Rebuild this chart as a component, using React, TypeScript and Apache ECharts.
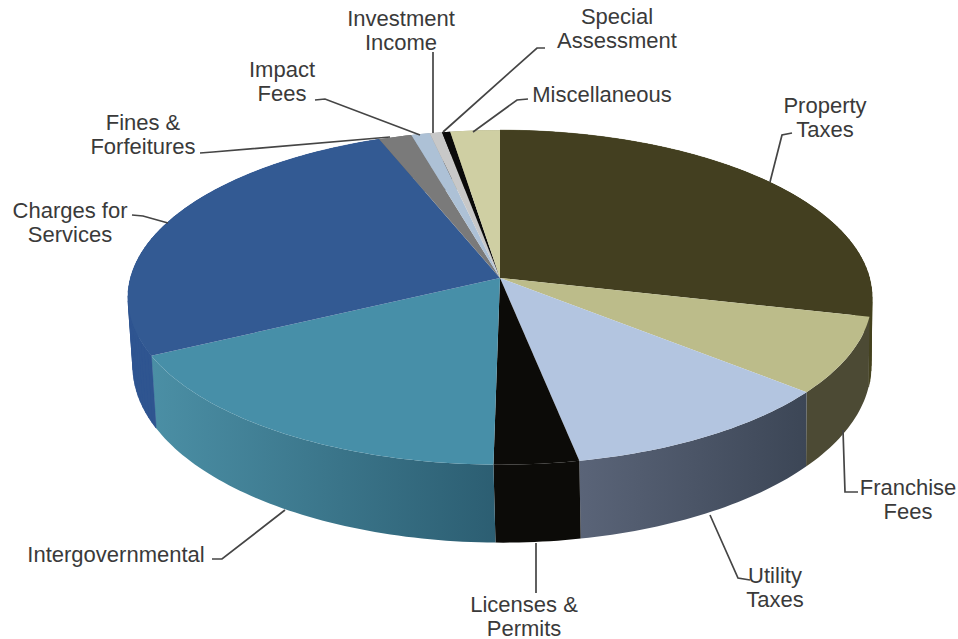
import React, { useEffect, useRef } from "react";
import * as echarts from "echarts";

const categories = ["Property Taxes", "Franchise Fees", "Utility Taxes", "Licenses & Permits", "Intergovernmental", "Charges for Services", "Fines & Forfeitures", "Impact Fees", "Investment Income", "Special Assessment", "Miscellaneous"];
const shares = [28.7, 7.4, 10.9, 3.3, 17.4, 26.5, 1.6, 0.9, 0.6, 0.4, 2.4];
const topColors = ["#433f20", "#bcbc8a", "#b3c5e0", "#0c0b08", "#478fa8", "#335a93", "#7a7a7a", "#adc1d6", "#c8c8c8", "#0a0a0a", "#cfcfa3"];
const wallStart = ["#45421f", "#4c4a34", "#5a6478", "#0c0b08", "#4b8fa5", "#2f5590", "#666666", "#8899aa", "#999999", "#0a0a0a", "#a0a080"];
const wallEnd = ["#45421f", "#4c4a34", "#3c4656", "#0c0b08", "#2c5e72", "#2f5590", "#666666", "#8899aa", "#999999", "#0a0a0a", "#a0a080"];

type Label = { text: string; x: number; y: number };
const labels: Label[] = [
  { text: "Investment\nIncome", x: 401, y: 30 },
  { text: "Special\nAssessment", x: 617, y: 28 },
  { text: "Miscellaneous", x: 602, y: 94 },
  { text: "Property\nTaxes", x: 825, y: 117 },
  { text: "Impact\nFees", x: 282, y: 81 },
  { text: "Fines &\nForfeitures", x: 143, y: 134 },
  { text: "Charges for\nServices", x: 70, y: 222 },
  { text: "Intergovernmental", x: 116, y: 554 },
  { text: "Licenses &\nPermits", x: 524, y: 616 },
  { text: "Utility\nTaxes", x: 775, y: 587 },
  { text: "Franchise\nFees", x: 908, y: 499 },
];
const leaders: number[][][] = [
  [[433, 52], [433, 133]],
  [[545, 48], [537, 48], [443, 132]],
  [[528, 99], [517, 100], [473, 132]],
  [[770, 182], [782, 135], [792, 133]],
  [[315, 100], [325, 99], [420, 135]],
  [[200, 153], [213, 152], [390, 137]],
  [[132, 215], [143, 216], [168, 223]],
  [[212, 559], [222, 559], [285, 510]],
  [[536, 543], [536, 593]],
  [[710, 515], [738, 578], [750, 580]],
  [[843, 430], [845, 492], [858, 492]],
];

const CX = 500, CY = 278, RX = 369.5, RY = 165, P = 0.116;
const BOTTOM_CX = 502, BOTTOM_SCALE = 0.992;
const total = shares.reduce((a, b) => a + b, 0);
const bounds = (i: number) => {
  const before = shares.slice(0, i).reduce((a, b) => a + b, 0);
  return [(before / total) * 2 * Math.PI, ((before + shares[i]) / total) * 2 * Math.PI];
};
const rim = (t: number, bottom: boolean) => {
  const u = Math.sin(t), v = -Math.cos(t), w = 1 - P * v;
  return bottom
    ? [BOTTOM_CX + (RX * BOTTOM_SCALE * u) / w, CY + (RY * v) / w + 68 + 10 * v]
    : [CX + (RX * u) / w, CY + (RY * v) / w];
};
const arc = (a: number, b: number, bottom: boolean) => {
  const n = Math.max(2, Math.ceil((b - a) / 0.02));
  const pts: number[][] = [];
  for (let k = 0; k <= n; k++) pts.push(rim(a + ((b - a) * k) / n, bottom));
  return pts;
};

const wallItem = (params: any) => {
  const i = params.dataIndex;
  const [a, b] = bounds(i);
  const children: any[] = [
    {
      type: "polygon",
      shape: { points: [...arc(a, b, false), ...arc(a, b, true).reverse()] },
      style: {
        fill: new echarts.graphic.LinearGradient(0, 0, 1, 0, [
          { offset: 0, color: wallStart[i] },
          { offset: 1, color: wallEnd[i] },
        ]),
      },
    },
  ];
  // The two big solid walls hold the silhouette's sides: strips fill those straight edges.
  if (wallStart[i] === wallEnd[i] && b - a > 1) {
    const n = Math.ceil((b - a) / 0.03);
    for (let k = 0; k < n; k++) {
      const t0 = a + ((b - a) * k) / n, t1 = a + ((b - a) * (k + 1)) / n;
      children.push({
        type: "polygon",
        shape: { points: [rim(t0, false), rim(t1, false), rim(t1, true), rim(t0, true)] },
        style: { fill: wallStart[i], stroke: wallStart[i], lineWidth: 0.5 },
      });
    }
  }
  return { type: "group", children };
};
const topItem = (params: any) => {
  const i = params.dataIndex;
  const [a, b] = bounds(i);
  return {
    type: "polygon",
    shape: { points: [[CX, CY], ...arc(a, b, false)] },
    style: { fill: topColors[i] },
  };
};

export default function App() {
  const ref = useRef<HTMLDivElement>(null);
  useEffect(() => {
    const chart = echarts.init(ref.current!, undefined, { renderer: "svg" });
    const data = categories.map((name, i) => ({ name, value: shares[i] }));
    chart.setOption({
      animation: false,
      backgroundColor: "#ffffff",
      graphic: [
        ...leaders.map((pts) => ({
          type: "polyline",
          z: 5,
          shape: { points: pts },
          style: { stroke: "#454545", lineWidth: 1.7, fill: "none" },
        })),
        ...labels.map((l) => ({
          type: "text",
          z: 6,
          x: l.x,
          y: l.y,
          style: {
            text: l.text,
            fill: "#3a3a3a",
            font: '22px "Liberation Sans"',
            lineHeight: 24,
            align: "center",
            verticalAlign: "middle",
          },
        })),
      ],
      series: [
        { type: "custom", coordinateSystem: "none", renderItem: wallItem, data, z: 1, silent: true },
        { type: "custom", coordinateSystem: "none", renderItem: topItem, data, z: 2, silent: true },
      ],
    });
    return () => chart.dispose();
  }, []);
  return <div ref={ref} style={{ position: "fixed", left: 0, top: 0, width: 958, height: 639 }} />;
}
